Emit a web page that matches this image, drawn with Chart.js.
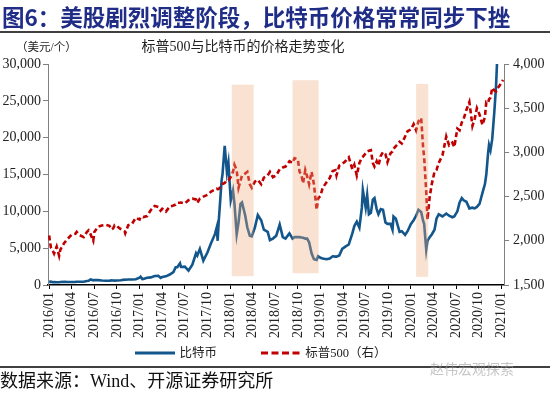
<!DOCTYPE html>
<html>
<head>
<meta charset="utf-8">
<script src="https://cdn.jsdelivr.net/npm/chart.js@4.4.0/dist/chart.umd.min.js"></script>
<style>
  body { margin: 0; background: #fff; }
  #wrap { position: relative; width: 550px; height: 394px; overflow: hidden; font-family: 'Liberation Serif', 'Noto Sans CJK SC', serif; }
  #chart { position: absolute; left: 0; top: 0; }
  #title { position: absolute; left: 2px; top: 1px; font: bold 22.5px/30px 'Noto Sans CJK SC', sans-serif; color: #1f2d86; white-space: nowrap; }
  .rule { position: absolute; left: 0; width: 550px; height: 2px; background: #404040; }
  #sub { position: absolute; left: 0; width: 486px; text-align: center; top: 38px; font-size: 14px; line-height: 18px; color: #222; }
  #unit { position: absolute; left: 16px; top: 39px; font-size: 11.5px; line-height: 16px; color: #222; }
  #legend { position: absolute; top: 343px; left: 0; width: 522px; text-align: center; font-size: 12.5px; line-height: 18px; color: #222; white-space: nowrap; }
  #legend span { display: inline-block; vertical-align: middle; }
  #legend svg { vertical-align: middle; margin-right: 4px; }
  #src { position: absolute; left: 0; top: 370px; font-size: 18px; line-height: 22px; color: #111; white-space: nowrap; }
  #mark { position: absolute; left: 430px; top: 359px; font-size: 14px; line-height: 18px; color: rgba(150,150,150,0.55); font-family: 'Noto Sans CJK SC', sans-serif; }
</style>
</head>
<body>
<div id="wrap">
  <canvas id="chart" width="550" height="345"></canvas>
  <div id="title">图6：美股剧烈调整阶段，比特币价格常常同步下挫</div>
  <div class="rule" style="top:31px"></div>
  <div id="unit">（美元/个）</div>
  <div id="sub">标普500与比特币的价格走势变化</div>
  <div id="legend">
    <svg width="40" height="4"><line x1="0" y1="2" x2="40" y2="2" stroke="#13568b" stroke-width="3"/></svg><span>比特币</span>
    <span style="width:38px"></span>
    <svg width="40" height="4"><line x1="0" y1="2" x2="40" y2="2" stroke="#c00000" stroke-width="3" stroke-dasharray="7,3.5"/></svg><span>标普500（右）</span>
  </div>
  <div class="rule" style="top:366px"></div>
  <div id="mark">赵伟宏观探索</div>
  <div id="src">数据来源：Wind、开源证券研究所</div>
</div>
<script>
// dates as they sit on the chart's time axis
const dates = [
  "2016-01-01","2016-01-08","2016-01-16","2016-01-21","2016-02-01","2016-02-11","2016-02-16","2016-03-01","2016-03-16","2016-04-01",
  "2016-04-16","2016-04-21","2016-05-01","2016-05-19","2016-06-01","2016-06-08","2016-06-16","2016-06-27","2016-07-01","2016-07-16",
  "2016-08-01","2016-08-16","2016-09-01","2016-09-09","2016-09-16","2016-09-22","2016-10-01","2016-10-16","2016-11-01","2016-11-04",
  "2016-11-16","2016-12-01","2016-12-16","2017-01-01","2017-01-05","2017-01-12","2017-01-16","2017-02-01","2017-02-16","2017-03-01",
  "2017-03-16","2017-03-25","2017-04-01","2017-04-16","2017-05-01","2017-05-16","2017-05-25","2017-06-01","2017-06-12","2017-06-16",
  "2017-07-01","2017-07-16","2017-08-01","2017-08-16","2017-08-21","2017-09-01","2017-09-15","2017-10-01","2017-10-16","2017-11-01",
  "2017-11-08","2017-11-12","2017-11-16","2017-11-28","2017-12-01","2017-12-10","2017-12-19","2017-12-25","2018-01-04","2018-01-13",
  "2018-01-19","2018-01-28","2018-02-05","2018-02-13","2018-02-19","2018-03-01","2018-03-10","2018-03-20","2018-03-28","2018-04-10",
  "2018-04-22","2018-05-05","2018-05-16","2018-06-01","2018-06-10","2018-06-22","2018-07-05","2018-07-19","2018-08-01","2018-08-12",
  "2018-08-28","2018-09-10","2018-09-18","2018-10-01","2018-10-08","2018-10-15","2018-10-22","2018-10-31","2018-11-08","2018-11-16",
  "2018-11-26","2018-12-05","2018-12-16","2018-12-22","2019-01-01","2019-01-10","2019-01-25","2019-02-08","2019-02-20","2019-03-01",
  "2019-03-05","2019-03-16","2019-03-28","2019-04-10","2019-04-24","2019-05-08","2019-05-16","2019-05-26","2019-06-06","2019-06-16",
  "2019-06-20","2019-07-01","2019-07-07","2019-07-14","2019-07-22","2019-07-30","2019-08-06","2019-08-15","2019-08-22","2019-09-01",
  "2019-09-10","2019-09-20","2019-09-28","2019-10-10","2019-10-18","2019-10-22","2019-11-01","2019-11-16","2019-11-25","2019-12-08",
  "2019-12-18","2020-01-01","2020-01-12","2020-01-22","2020-02-01","2020-02-12","2020-02-20","2020-02-24","2020-03-02","2020-03-07",
  "2020-03-16","2020-03-25","2020-04-05","2020-04-13","2020-04-22","2020-05-07","2020-05-22","2020-06-03","2020-06-16","2020-06-24",
  "2020-07-06","2020-07-15","2020-07-24","2020-08-01","2020-08-12","2020-08-24","2020-09-06","2020-09-15","2020-09-24","2020-10-04",
  "2020-10-16","2020-10-26","2020-11-01","2020-11-08","2020-11-12","2020-11-18","2020-11-25","2020-12-03","2020-12-10","2020-12-15",
  "2020-12-25","2021-01-08"
];

// 比特币, USD per coin (left axis)
const btc = [
  430,450,385,410,375,380,405,435,415,417,
  430,445,450,440,535,580,750,630,675,665,
  605,580,572,625,608,595,615,640,730,705,
  745,755,780,1000,1130,800,830,985,1035,1220,
  1240,960,1080,1180,1420,1750,2400,2400,2950,2450,
  2500,1950,2750,4300,4000,4900,3300,4400,5700,6900,
  7800,6000,8500,14200,15000,18900,15300,16600,11500,12800,
  11000,6900,8500,11000,11200,9500,7800,6700,6600,7800,
  9500,8800,7500,7200,6100,6300,6700,8200,6500,6300,
  7000,6300,6500,6500,6500,6450,6400,6300,6300,5800,
  4300,3500,3400,3900,3700,3600,3500,3600,3900,3850,
  3850,4000,4900,5200,5500,7000,8000,8600,7800,10500,
  12900,10500,12200,9600,9800,11600,11800,10300,9600,10300,
  10200,8500,8300,8300,7500,9300,9000,7200,7300,6800,
  7300,8300,8800,9400,10200,9900,8700,8300,4800,6000,
  6500,6900,7500,9000,9600,9300,9700,9400,9200,9300,
  10000,11200,11800,11500,11300,10400,10500,10400,10600,11000,
  12500,13700,15000,17800,19000,18300,19800,23500,27000,31000,
  35000,40000
];

// 标普500 index (right axis)
const spx = [
  2060,1925,1885,1855,1935,1830,1900,1975,2025,2070,
  2080,2100,2065,2042,2098,2118,2075,2000,2100,2160,
  2172,2180,2170,2128,2140,2177,2165,2132,2110,2085,
  2177,2192,2260,2240,2270,2272,2268,2280,2348,2395,
  2382,2342,2362,2330,2388,2400,2410,2430,2430,2433,
  2423,2459,2476,2468,2428,2477,2500,2519,2557,2579,
  2590,2584,2585,2627,2642,2655,2685,2685,2720,2780,
  2860,2800,2600,2680,2740,2760,2780,2640,2600,2670,
  2690,2640,2715,2740,2780,2720,2740,2810,2830,2840,
  2900,2880,2935,2920,2780,2750,2650,2800,2730,2640,
  2780,2640,2350,2480,2510,2600,2660,2710,2790,2800,
  2740,2850,2870,2900,2945,2810,2860,2740,2880,2940,
  2950,2990,3010,3020,3025,2880,2840,2900,2850,2960,
  3005,2980,2890,2990,3010,3040,3070,3120,3100,3180,
  3240,3260,3320,3250,3350,3390,3050,2950,2550,2240,
  2500,2650,2780,2800,2880,2970,3180,3080,3110,3060,
  3270,3250,3340,3380,3480,3570,3300,3380,3500,3430,
  3310,3400,3570,3560,3600,3620,3730,3700,3690,3720,
  3760,3820
];

const tickLabels = [
  "2016/01","2016/04","2016/07","2016/10","2017/01","2017/04","2017/07","2017/10",
  "2018/01","2018/04","2018/07","2018/10","2019/01","2019/04","2019/07","2019/10",
  "2020/01","2020/04","2020/07","2020/10","2021/01"
];

// shaded correction periods
const shadeFrom = ["2018-01-08", "2018-09-10", "2020-01-22"];
const shadeTo = ["2018-04-05", "2018-12-24", "2020-03-10"];
const shadeTop = [27200, 27800, 27300];
const shadeBottom = [1200, 1600, 1100];

function toMonth(d) {
  const [y, m, day] = d.split("-").map(Number);
  return (y - 2016) * 12 + (m - 1) + (day - 1) / 30.5;
}

const shadePlugin = {
  id: "shade",
  afterDatasetsDraw(chart) {
    const { ctx, scales: { x, y } } = chart;
    ctx.save();
    ctx.fillStyle = "rgba(242,172,126,0.35)";
    shadeFrom.forEach((d, i) => {
      const x0 = x.getPixelForValue(toMonth(d));
      const x1 = x.getPixelForValue(toMonth(shadeTo[i]));
      const y0 = y.getPixelForValue(shadeTop[i]);
      const y1 = y.getPixelForValue(shadeBottom[i]);
      ctx.fillRect(x0, y0, x1 - x0, y1 - y0);
    });
    ctx.restore();
  }
};

const tickFont = { family: "'Liberation Serif', 'Times New Roman', serif", size: 14 };

new Chart(document.getElementById("chart"), {
  type: "line",
  data: {
    datasets: [
      {
        label: "比特币",
        data: dates.map((d, i) => ({ x: toMonth(d), y: btc[i] })),
        borderColor: "#13568b",
        borderWidth: 2.6,
        pointRadius: 0,
        tension: 0,
        yAxisID: "y",
        order: 1
      },
      {
        label: "标普500（右）",
        data: dates.map((d, i) => ({ x: toMonth(d), y: spx[i] })),
        borderColor: "#c00000",
        borderWidth: 2.6,
        borderDash: [5, 3],
        pointRadius: 0,
        tension: 0,
        yAxisID: "y1",
        order: 0
      }
    ]
  },
  options: {
    responsive: false,
    animation: false,
    layout: { padding: { top: 64, left: 0, right: 0, bottom: 0 } },
    plugins: { legend: { display: false }, tooltip: { enabled: false } },
    scales: {
      x: {
        type: "linear",
        min: -0.15,
        max: 60.35,
        afterBuildTicks: (scale) => { scale.ticks = tickLabels.map((_, i) => ({ value: i * 3 })); },
        afterFit: (scale) => { scale.height = 60; },
        ticks: {
          autoSkip: false,
          minRotation: 90,
          maxRotation: 90,
          padding: 3,
          color: "#222",
          font: tickFont,
          callback: (v, i) => tickLabels[i]
        },
        grid: { display: true, drawOnChartArea: false, drawTicks: true, tickLength: 4, color: "#000" },
        border: { display: true, color: "#000", width: 1.5 }
      },
      y: {
        position: "left",
        min: 0,
        max: 30000,
        afterBuildTicks: (scale) => { scale.ticks = [0, 5000, 10000, 15000, 20000, 25000, 30000].map(v => ({ value: v })); },
        afterFit: (scale) => { scale.width = 48; },
        ticks: { padding: 2, color: "#222", font: tickFont, callback: v => v.toLocaleString("en-US") },
        grid: { display: true, drawOnChartArea: false, drawTicks: true, tickLength: 5, color: "#808080" },
        border: { display: true, color: "#808080", width: 1 }
      },
      y1: {
        position: "right",
        min: 1500,
        max: 4000,
        afterBuildTicks: (scale) => { scale.ticks = [1500, 2000, 2500, 3000, 3500, 4000].map(v => ({ value: v })); },
        afterFit: (scale) => { scale.width = 46; },
        ticks: { padding: 4, color: "#222", font: tickFont, callback: v => v.toLocaleString("en-US") },
        grid: { display: true, drawOnChartArea: false, drawTicks: true, tickLength: 5, color: "#808080" },
        border: { display: true, color: "#808080", width: 1 }
      }
    }
  },
  plugins: [shadePlugin]
});
</script>
</body>
</html>
